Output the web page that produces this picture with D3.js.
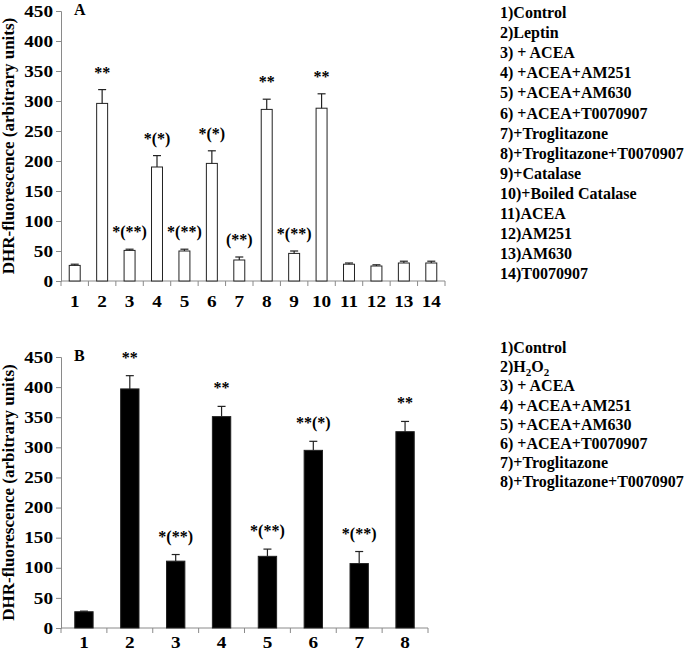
<!DOCTYPE html>
<html>
<head>
<meta charset="utf-8">
<script src="https://cdn.jsdelivr.net/npm/d3@7"></script>
<style>
  html, body { margin: 0; padding: 0; background: #fff; }
  svg { display: block; }
  text { font-family: "Liberation Serif", "Times New Roman", serif; font-weight: bold; fill: #000; }
</style>
</head>
<body>
<svg id="chart" width="693" height="654"></svg>
<script>
// ---- Data ----
const yTicks = [0, 50, 100, 150, 200, 250, 300, 350, 400, 450];
const yTitle = "DHR-fluorescence (arbitrary units)";

const categoriesA = ["1","2","3","4","5","6","7","8","9","10","11","12","13","14"];
const valuesA = [26, 296, 51, 190, 50, 196, 35, 286, 46, 288, 28, 25, 30, 30];
const errorsA = [2, 23, 2, 19, 3, 21, 5, 17, 4, 24, 2, 2, 3, 3];
const signifA = ["", "**", "*(**)", "*(*)", "*(**)", "*(*)", "(**)", "**", "*(**)", "**", "", "", "", ""];
const legendA = ["1)Control", "2)Leptin", "3) + ACEA", "4) +ACEA+AM251", "5) +ACEA+AM630",
  "6) +ACEA+T0070907", "7)+Troglitazone", "8)+Troglitazone+T0070907", "9)+Catalase",
  "10)+Boiled Catalase", "11)ACEA", "12)AM251", "13)AM630", "14)T0070907"];

const categoriesB = ["1","2","3","4","5","6","7","8"];
const valuesB = [27, 397, 111, 351, 119, 295, 107, 326];
const errorsB = [1, 22, 11, 17, 12, 15, 20, 17];
const signifB = ["", "**", "*(**)", "**", "*(**)", "**(*)", "*(**)", "**"];
const legendB = ["1)Control", "2)H_2O_2", "3) + ACEA", "4) +ACEA+AM251", "5) +ACEA+AM630",
  "6) +ACEA+T0070907", "7)+Troglitazone", "8)+Troglitazone+T0070907"];

// ---- Drawing ----
const svg = d3.select("#chart");
const SX = 1.2;

function drawPanel(o) {
  const g = svg.append("g");
  const x = d3.scaleBand().domain(o.cats).range([o.x0, o.x1]).paddingInner(0.6).paddingOuter(0.3);
  const y = d3.scaleLinear().domain([0, 450]).range([o.yb, o.yt]);

  // y axis
  const ya = g.append("g").attr("transform", `translate(${o.x0},0)`)
    .call(d3.axisLeft(y).tickValues(yTicks).tickSize(5).tickPadding(3));
  ya.select(".domain").attr("stroke", "#8a8a8a");
  ya.selectAll(".tick line").attr("stroke", "#8a8a8a");
  ya.selectAll(".tick text").attr("font-size", 16).attr("fill", "#000")
    .attr("x", -8 / SX).attr("transform", `scale(${SX},1)`);

  // x axis: ticks between categories
  const xa = g.append("g").attr("transform", `translate(0,${o.yb})`)
    .call(d3.axisBottom(x).tickSize(0).tickPadding(o.xpad));
  xa.select(".domain").attr("stroke", "#8a8a8a").attr("d", `M${o.x0},0H${o.x1}`);
  xa.selectAll(".tick text").attr("font-size", 16).attr("fill", "#000")
    .attr("transform", `scale(${SX},1)`);
  const bounds = d3.range(o.cats.length + 1).map(i => o.x0 + i * (o.x1 - o.x0) / o.cats.length);
  g.selectAll(".xsep").data(bounds).enter().append("line")
    .attr("x1", d => d).attr("x2", d => d).attr("y1", o.yb).attr("y2", o.yb + 5)
    .attr("stroke", "#8a8a8a");

  // bars
  g.selectAll(".bar").data(o.vals).enter().append("rect")
    .attr("x", (d, i) => x(o.cats[i]))
    .attr("width", x.bandwidth())
    .attr("y", d => y(d))
    .attr("height", d => y(0) - y(d))
    .attr("fill", o.fill)
    .attr("stroke", "#222").attr("stroke-width", 1);

  // error bars + significance marks
  o.vals.forEach((v, i) => {
    const cx = x(o.cats[i]) + x.bandwidth() / 2;
    const top = y(v + o.errs[i]);
    g.append("line").attr("x1", cx).attr("x2", cx).attr("y1", y(v)).attr("y2", top).attr("stroke", "#222").attr("stroke-width", 1.2);
    g.append("line").attr("x1", cx - o.cap).attr("x2", cx + o.cap).attr("y1", top).attr("y2", top).attr("stroke", "#222").attr("stroke-width", 1.2);
    if (o.sig[i]) {
      g.append("text").attr("x", cx).attr("y", top - o.sigGap)
        .attr("text-anchor", "middle").attr("font-size", 16).text(o.sig[i]);
    }
  });

  // panel letter
  g.append("text").attr("x", o.x0 + 13).attr("y", o.yt + 4).attr("font-size", 16).text(o.letter);

  // y title
  g.append("text")
    .attr("transform", `translate(${o.titleX},${(o.yt + o.yb) / 2}) rotate(-90)`)
    .attr("text-anchor", "middle").attr("font-size", 17).text(yTitle);

  // legend
  o.legend.forEach((t, i) => {
    const tx = g.append("text").attr("x", o.lx).attr("y", o.ly + i * o.lstep).attr("font-size", 16);
    const parts = t.split(/_(\d)/);
    parts.forEach((p, j) => {
      if (j % 2 === 1) {
        tx.append("tspan").attr("font-size", 11).attr("dy", 4).text(p);
      } else if (p) {
        tx.append("tspan").attr("dy", j > 0 ? -4 : 0).text(p);
      }
    });
  });
}

drawPanel({ cats: categoriesA, vals: valuesA, errs: errorsA, sig: signifA, legend: legendA,
  x0: 61, x1: 445, yt: 11, yb: 281, fill: "#fff", cap: 4, sigGap: 12, xpad: 15,
  letter: "A", titleX: 14, lx: 500, ly: 18, lstep: 20.1 });

drawPanel({ cats: categoriesB, vals: valuesB, errs: errorsB, sig: signifB, legend: legendB,
  x0: 61, x1: 428, yt: 357, yb: 628, fill: "#000", cap: 4, sigGap: 13, xpad: 9,
  letter: "B", titleX: 14, lx: 500, ly: 353, lstep: 19.2 });
</script>
</body>
</html>
